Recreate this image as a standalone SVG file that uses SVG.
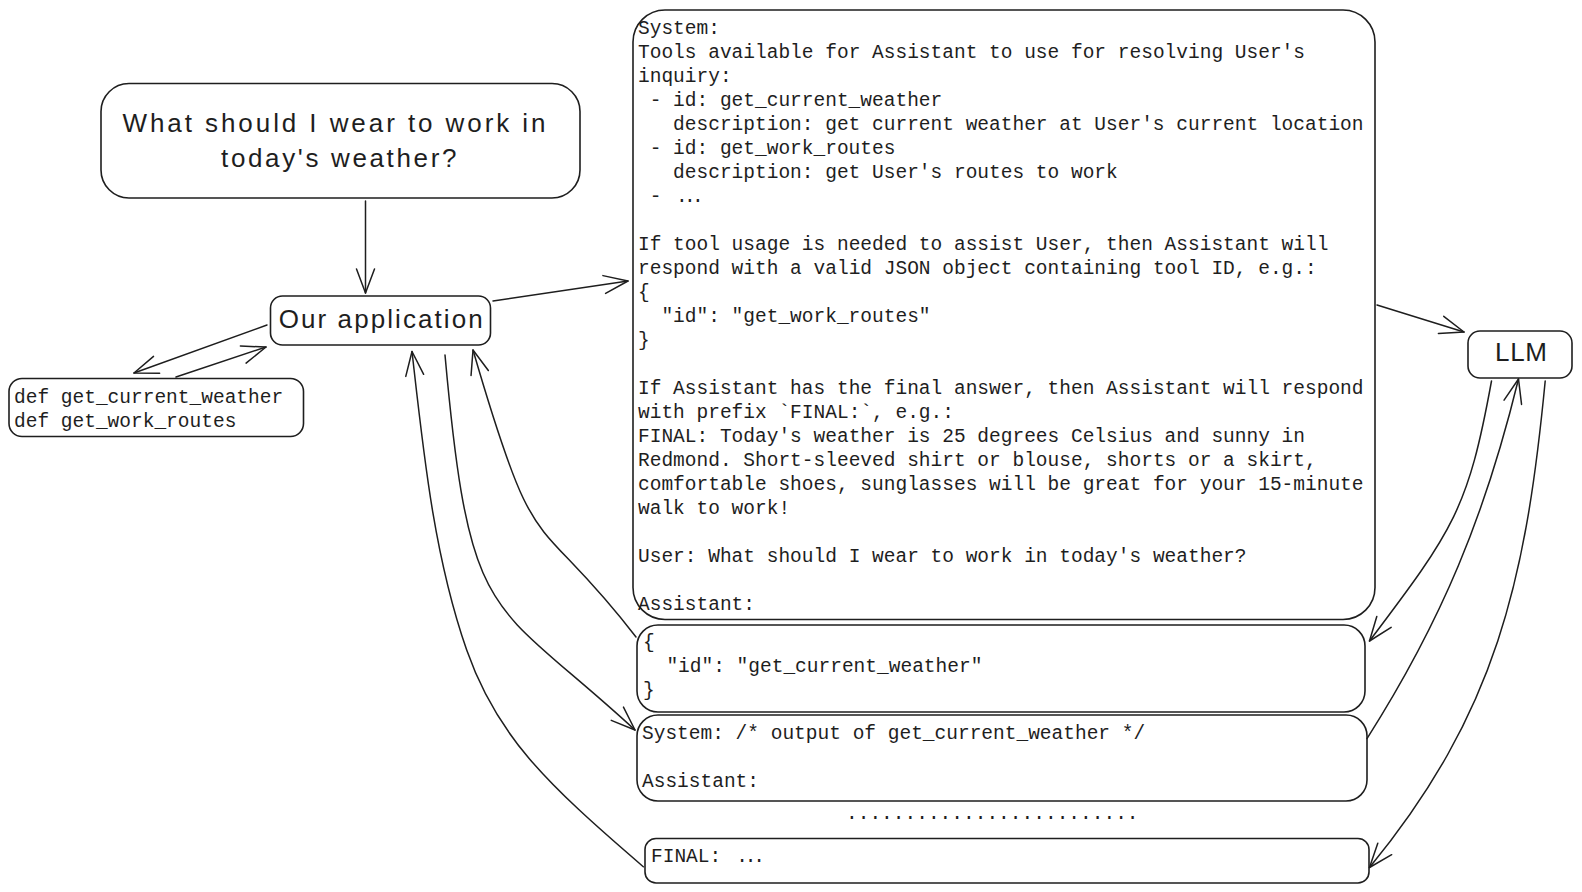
<svg xmlns="http://www.w3.org/2000/svg" width="1582" height="892" viewBox="0 0 1582 892">
<style>
.box{fill:none;stroke:#1e1e1e;stroke-width:1.6}
.hand{font-family:"Liberation Sans",Arial,sans-serif;font-size:26px;fill:#1e1e1e}
.mono{font-family:"Liberation Mono","DejaVu Sans Mono",monospace;font-size:19.5px;fill:#1e1e1e}
.conn{fill:none;stroke:#1e1e1e;stroke-width:1.5;stroke-linecap:round;marker-end:url(#arrow)}
</style>
<defs>
<marker id="arrow" markerUnits="userSpaceOnUse" viewBox="-28 -12 32 24" refX="0" refY="0" markerWidth="32" markerHeight="24" orient="auto" style="overflow:visible">
<path d="M-24 -9 L0 0 L-24 9" fill="none" stroke="#1e1e1e" stroke-width="1.5" stroke-linecap="round" stroke-linejoin="round"/>
</marker>
</defs>
<rect x="0" y="0" width="1582" height="892" fill="#ffffff"/>

<g id="connectors">
<path class="conn" d="M365.5 201 L365.5 293"/>
<path class="conn" d="M493 301 L628 281"/>
<path class="conn" d="M267 325 L134 373"/>
<path class="conn" d="M176 377 L266 347"/>
<path class="conn" d="M1377 305 L1464 332"/>
<path class="conn" d="M1491.5 381 C1468.2 508.9 1453.9 529.3 1369.5 641"/>
<path class="conn" d="M1367 738.6 C1442 620.6 1485.3 515 1518.5 379"/>
<path class="conn" d="M1545.2 381 C1526 580 1496.5 712.9 1369.5 867.5"/>
<path class="conn" d="M636 637 C532.9 503.5 537.8 572.9 473 350"/>
<path class="conn" d="M445 355 C470 631.4 490 596.2 635 730"/>
<path class="conn" d="M643.3 866.7 C544.6 782 496.4 735 466.7 650 C433.7 555.6 423.3 450.9 412 351.5"/>
</g>

<g id="question">
<rect class="box" x="101" y="83.5" width="479" height="114.5" rx="28" ry="28"/>
<text class="hand" x="122.5" y="132" textLength="423" lengthAdjust="spacing">What should I wear to work in</text>
<text class="hand" x="221" y="167" textLength="235.5" lengthAdjust="spacing">today's weather?</text>
</g>

<g id="our-application">
<rect class="box" x="270.5" y="296" width="220" height="49" rx="12" ry="12"/>
<text class="hand" x="278.7" y="328" textLength="204" lengthAdjust="spacing">Our application</text>
</g>

<g id="functions">
<rect class="box" x="9" y="378.5" width="294.5" height="58" rx="13" ry="13"/>
<text class="mono" x="14" y="403">def get_current_weather</text>
<text class="mono" x="14" y="427">def get_work_routes</text>
</g>

<g id="llm">
<rect class="box" x="1468" y="331" width="104" height="47" rx="12" ry="12"/>
<text class="hand" x="1495" y="361" textLength="52" lengthAdjust="spacing">LLM</text>
</g>

<g id="prompt">
<rect class="box" x="633" y="10" width="742" height="609.5" rx="32" ry="32"/>
<text class="mono" x="638" y="34.3">System:</text>
<text class="mono" x="638" y="58.3">Tools available for Assistant to use for resolving User's</text>
<text class="mono" x="638" y="82.3">inquiry:</text>
<text class="mono" x="649.7" y="106.3">- id: get_current_weather</text>
<text class="mono" x="673.1" y="130.3">description: get current weather at User's current location</text>
<text class="mono" x="649.7" y="154.3">- id: get_work_routes</text>
<text class="mono" x="673.1" y="178.3">description: get User's routes to work</text>
<text class="mono" x="649.7" y="202.3">- <tspan dx="3" letter-spacing="-3.7">...</tspan></text>
<text class="mono" x="638" y="250.3">If tool usage is needed to assist User, then Assistant will</text>
<text class="mono" x="638" y="274.3">respond with a valid JSON object containing tool ID, e.g.:</text>
<text class="mono" x="638" y="298.3">{</text>
<text class="mono" x="661.4" y="322.3">"id": "get_work_routes"</text>
<text class="mono" x="638" y="346.3">}</text>
<text class="mono" x="638" y="394.3">If Assistant has the final answer, then Assistant will respond</text>
<text class="mono" x="638" y="418.3">with prefix `FINAL:`, e.g.:</text>
<text class="mono" x="638" y="442.3">FINAL: Today's weather is 25 degrees Celsius and sunny in</text>
<text class="mono" x="638" y="466.3">Redmond. Short-sleeved shirt or blouse, shorts or a skirt,</text>
<text class="mono" x="638" y="490.3">comfortable shoes, sunglasses will be great for your 15-minute</text>
<text class="mono" x="638" y="514.3">walk to work!</text>
<text class="mono" x="638" y="562.3">User: What should I wear to work in today's weather?</text>
<text class="mono" x="638" y="610.3">Assistant:</text>
</g>

<g id="tool-call">
<rect class="box" x="637" y="625" width="728" height="87" rx="21" ry="21"/>
<text class="mono" x="643" y="648">{</text>
<text class="mono" x="666.4" y="672">"id": "get_current_weather"</text>
<text class="mono" x="643" y="696">}</text>
</g>

<g id="tool-output">
<rect class="box" x="637" y="715" width="730" height="86" rx="21" ry="21"/>
<text class="mono" x="642" y="738.5">System: /* output of get_current_weather */</text>
<text class="mono" x="642" y="786.5">Assistant:</text>
</g>

<g id="ellipsis">
<text class="mono" x="846" y="819">.........................</text>
</g>

<g id="final">
<rect class="box" x="645" y="838.5" width="724" height="44.5" rx="11" ry="11"/>
<text class="mono" x="651" y="862">FINAL: <tspan dx="3.3" letter-spacing="-3.2">...</tspan></text>
</g>
</svg>
